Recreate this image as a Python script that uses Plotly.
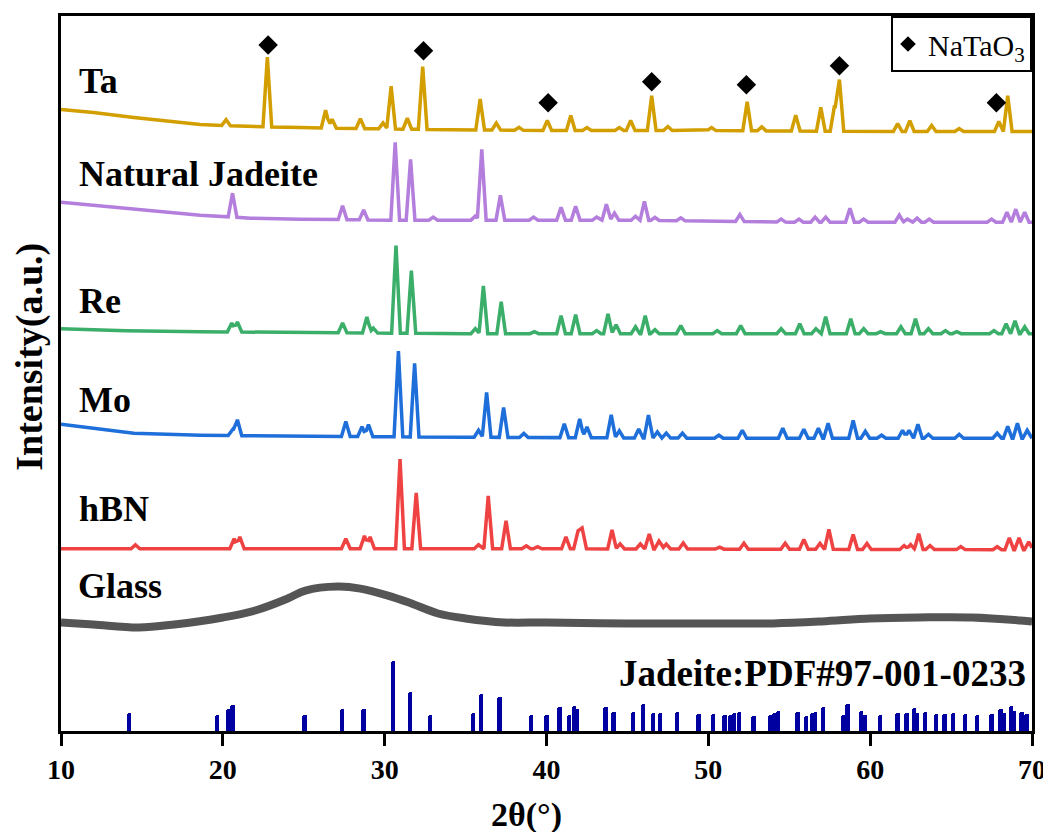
import numpy as np
import plotly.graph_objects as go

# ---------------- data (2θ in degrees, intensity in a.u.; 0 = bottom axis, 718 = top) -------------
x_range = [10, 70]
x_ticks = [10, 20, 30, 40, 50, 60, 70]
y_range = [0, 718]

# Ta sample
ta_base_x = [10, 12, 14.5, 18.6, 21.7, 24.8, 28, 33, 40, 50, 60, 70]
ta_base_y = [624, 621, 616, 609, 607, 606, 605, 604, 603, 603, 602, 602]
ta_peak_x = [20.2, 22.75, 26.35, 26.75, 28.5, 29.9, 30.4, 31.4, 32.35, 35.9, 36.9, 38.3, 40.05,
             41.5, 42.5, 44.5, 45.2, 46.5, 47.5, 50.2, 52.4, 53.3, 55.4, 56.95, 57.8, 58.1,
             61.7, 62.45, 63.8, 65.5, 67.95, 68.5]
ta_peak_h = [6, 70, 18, 9, 10, 6, 43, 11, 63, 31, 7, 3, 10,
             15, 3, 3, 10, 35, 4, 3, 29, 4, 16, 24, 26, 52,
             8, 11, 6, 3, 10, 36]

# Natural Jadeite
nj_base_x = [10, 14.5, 18.6, 21.7, 24.8, 30, 45, 55, 70]
nj_base_y = [531, 524, 518, 515, 514, 513, 513, 511, 511]
nj_peak_x = [20.6, 27.4, 28.7, 30.65, 31.6, 33.0, 35.6, 36.0, 37.15, 39.2, 40.9, 41.8, 43.1,
             43.7, 44.2, 45.5, 46.05, 46.7, 48.3, 51.95, 54.5, 55.6, 56.6, 57.25, 58.75,
             59.6, 61.8, 62.3, 62.9, 63.65, 67.5, 68.45, 69.0, 69.55]
nj_peak_h = [24, 14, 10, 78, 61, 3, 4, 71, 25, 3, 13, 14, 3,
             16, 7, 4, 19, 3, 3, 7, 3, 3, 5, 5, 14,
             3, 7, 3, 4, 3, 3, 10, 13, 10]

# Re
re_base_x = [10, 14, 18.6, 26, 35, 50, 70]
re_base_y = [404, 402, 401, 400, 399, 399, 399]
re_peak_x = [20.55, 20.9, 27.4, 28.9, 29.3, 30.7, 31.65, 35.6, 36.1, 37.2, 39.25, 40.9, 41.8,
             43.1, 43.8, 44.3, 45.5, 46.1, 46.7, 48.3, 50.55, 52.0, 54.5, 55.65, 56.65,
             57.25, 58.8, 59.6, 60.65, 61.9, 62.8, 63.6, 64.65, 65.35, 67.65, 68.4, 68.95, 69.55]
re_peak_h = [9, 10, 10, 16, 5, 88, 63, 5, 48, 32, 2, 18, 19,
             3, 20, 9, 7, 18, 4, 8, 3, 8, 5, 10, 5,
             17, 15, 5, 2, 7, 15, 5, 3, 2, 3, 10, 13, 7]

# Mo
mo_base_x = [10, 12.4, 14.5, 18.6, 24.8, 35, 50, 70]
mo_base_y = [308, 303, 299, 297, 296, 295, 294, 294]
mo_peak_x = [20.6, 20.9, 27.6, 28.6, 29.0, 30.85, 31.85, 35.8, 36.3, 37.35, 38.6, 41.1, 42.05,
             42.5, 44.0, 44.5, 45.7, 46.3, 46.85, 47.4, 48.4, 50.65, 52.1, 54.6, 55.9, 56.8,
             57.4, 58.95, 59.7, 60.7, 62.0, 62.4, 62.95, 63.6, 65.5, 67.85, 68.5, 69.1, 69.7]
mo_peak_h = [6, 16, 15, 10, 12, 86, 74, 7, 45, 30, 4, 14, 19,
             11, 23, 7, 9, 23, 6, 5, 5, 3, 8, 10, 9, 10,
             15, 18, 7, 3, 8, 8, 14, 4, 4, 5, 12, 15, 8]

# hBN
hbn_base_x = [10, 40, 70]
hbn_base_y = [183, 183, 182]
hbn_peak_x = [14.6, 20.7, 21.05, 27.6, 28.75, 29.1, 30.95, 31.95, 35.8, 36.4, 37.5, 38.75, 39.45,
              41.2, 41.95, 42.2, 44.05, 44.55, 45.8, 46.35, 46.95, 47.4, 48.45, 50.7, 52.2,
              54.75, 55.9, 56.9, 57.45, 58.95, 59.8, 62.1, 62.5, 63.0, 63.7, 65.6, 67.85,
              68.6, 69.2, 69.8]
hbn_peak_h = [4, 10, 12, 10, 13, 12, 90, 56, 4, 53, 28, 3, 2,
              12, 18, 21, 19, 5, 5, 15, 8, 5, 6, 2, 6,
              6, 10, 6, 20, 15, 6, 4, 5, 16, 4, 3, 3,
              12, 12, 8]

# Glass (amorphous hump)
glass_x = [10, 12, 14.8, 17, 20, 22, 24, 25.1, 27.1, 28.5, 30.2, 31.5, 33.3, 35, 37.4,
           40, 45, 50, 54, 57, 60, 63, 66.3, 70]
glass_y = [109, 107, 104, 107, 114, 121, 133, 141, 145, 143, 136, 129, 118, 113, 109,
           109, 108, 108, 108, 110, 113, 114, 114, 110]

# Jadeite reference pattern PDF#97-001-0233 (stick positions and relative intensities)
pdf_x = [14.2, 19.65, 20.33, 20.6, 25.05, 27.35, 28.7, 30.5, 31.55, 32.8, 35.45, 35.95, 37.1,
         39.05, 40.0, 40.8, 41.4, 41.7, 41.9, 43.65, 44.15, 45.35, 45.95, 46.6, 47.0, 48.05,
         49.4, 50.3, 51.0, 51.35, 51.6, 51.9, 52.8, 53.8, 54.05, 54.3, 55.5, 56.05, 56.4,
         56.6, 57.1, 58.35, 58.6, 59.45, 59.65, 60.6, 61.7, 62.25, 62.7, 62.9, 63.4, 64.05,
         64.6, 65.1, 65.85, 66.6, 67.5, 68.05, 68.25, 68.7, 68.9, 69.35, 69.65]
pdf_h = [18, 16, 22, 26, 16, 22, 22, 70, 39, 16, 18, 37, 34,
         16, 16, 24, 16, 25, 22, 24, 19, 19, 27, 18, 18, 19,
         17, 17, 16, 16, 18, 19, 15, 16, 18, 20, 19, 15, 18,
         19, 24, 16, 27, 20, 16, 16, 18, 18, 23, 18, 19, 17,
         17, 18, 17, 16, 17, 22, 18, 25, 20, 19, 17]

# NaTaO3 markers
natao3_x = [22.8, 32.4, 40.1, 46.5, 52.35, 58.1, 67.8]
natao3_y = [689, 683, 631, 652, 649, 668, 631]

# sample labels: text, 2θ of left edge, intensity of label centre
label_text = ["Ta", "Natural Jadeite", "Re", "Mo", "hBN", "Glass"]
label_x = [11.0, 11.0, 11.0, 11.0, 11.0, 10.9]
label_y = [653, 559, 432, 332, 223, 146]

# ---------------- build figure ----------------
PEAK_HALF_WIDTH = 0.27
# the page body keeps the browser's 8 px margin, so the figure is drawn 8 px in from the corner
PAGE_MARGIN = 8


def profile(base_x, base_y, peak_x, peak_h, hw=PEAK_HALF_WIDTH):
    """Polyline through read baseline knots and read peak apexes (with feet on the baseline)."""
    bx = np.asarray(base_x, float)
    px = np.asarray(peak_x, float)
    ph = np.asarray(peak_h, float)
    xs = np.unique(np.concatenate([bx, px - hw, px, px + hw]))
    xs = xs[(xs >= bx[0]) & (xs <= bx[-1])]
    tri = np.clip(1 - np.abs(xs[:, None] - px[None, :]) / hw, 0, None) * ph[None, :]
    ys = np.interp(xs, bx, base_y) + tri.max(axis=1)
    return xs, ys


series = [
    ("Ta", ta_base_x, ta_base_y, ta_peak_x, ta_peak_h, "#D29E00"),
    ("Natural Jadeite", nj_base_x, nj_base_y, nj_peak_x, nj_peak_h, "#B47EDD"),
    ("Re", re_base_x, re_base_y, re_peak_x, re_peak_h, "#3BAE6A"),
    ("Mo", mo_base_x, mo_base_y, mo_peak_x, mo_peak_h, "#1F6FDB"),
    ("hBN", hbn_base_x, hbn_base_y, hbn_peak_x, hbn_peak_h, "#EF4343"),
]

SERIF = "Liberation Serif"
fig = go.Figure()

fig.add_trace(go.Bar(x=pdf_x, y=pdf_h, width=0.27, marker=dict(color="#0000A0", line_width=0, cornerradius=2),
                     showlegend=False, name="Jadeite:PDF#97-001-0233"))

fig.add_trace(go.Scatter(x=glass_x, y=glass_y, mode="lines", line=dict(color="#555555", width=8, shape="spline"),
                         showlegend=False, name="Glass"))

for name, bx, by, px, ph, col in series:
    xs, ys = profile(bx, by, px, ph)
    fig.add_trace(go.Scatter(x=xs, y=ys, mode="lines", line=dict(color=col, width=3.5),
                             showlegend=False, name=name))

fig.add_trace(go.Scatter(x=natao3_x, y=natao3_y, mode="markers",
                         marker=dict(symbol="diamond", size=15, color="black"),
                         name="NaTaO<sub>3</sub>", showlegend=True))

for t, lx, ly in zip(label_text, label_x, label_y):
    fig.add_annotation(x=lx, y=ly, xref="x", yref="y", text=t, showarrow=False,
                       xanchor="left", yanchor="middle",
                       font=dict(family=SERIF, size=36, color="black", weight="bold"))

fig.add_annotation(x=69.75, y=58, xref="x", yref="y", text="Jadeite:PDF#97-001-0233", showarrow=False,
                   xanchor="right", yanchor="middle",
                   font=dict(family=SERIF, size=37, color="black", weight="bold"))

# axis titles
fig.add_annotation(x=0.479, y=-0.117, xref="paper", yref="paper", text="2θ(°)", showarrow=False,
                   xanchor="center", yanchor="middle",
                   font=dict(family=SERIF, size=34, color="black", weight="bold"))
fig.add_annotation(x=-0.0325, y=0.524, xref="paper", yref="paper", text="Intensity(a.u.)", showarrow=False,
                   xanchor="center", yanchor="middle", textangle=-90,
                   font=dict(family=SERIF, size=38, color="black", weight="bold"))

fig.update_layout(
    width=1051 - PAGE_MARGIN, height=832 - PAGE_MARGIN, autosize=False,
    margin=dict(l=61 - PAGE_MARGIN, r=18, t=13 - PAGE_MARGIN, b=101),
    paper_bgcolor="white", plot_bgcolor="white",
    bargap=0,
    legend=dict(x=1, y=1, xanchor="right", yanchor="top", bordercolor="black", borderwidth=2,
                bgcolor="white", font=dict(family=SERIF, size=30, color="black"),
                itemsizing="constant", indentation=-5, tracegroupgap=0),
    xaxis=dict(range=x_range, tickvals=x_ticks, ticks="outside", ticklen=12, tickwidth=3,
               tickcolor="black", showline=True, linecolor="black", linewidth=2.5, mirror=True,
               showgrid=False, zeroline=False,
               tickfont=dict(family=SERIF, size=28, color="black", weight="bold")),
    yaxis=dict(range=y_range, showticklabels=False, ticks="", showline=True, linecolor="black",
               linewidth=2.5, mirror=True, showgrid=False, zeroline=False),
)

fig.write_html("out.html", config={"displayModeBar": False})
